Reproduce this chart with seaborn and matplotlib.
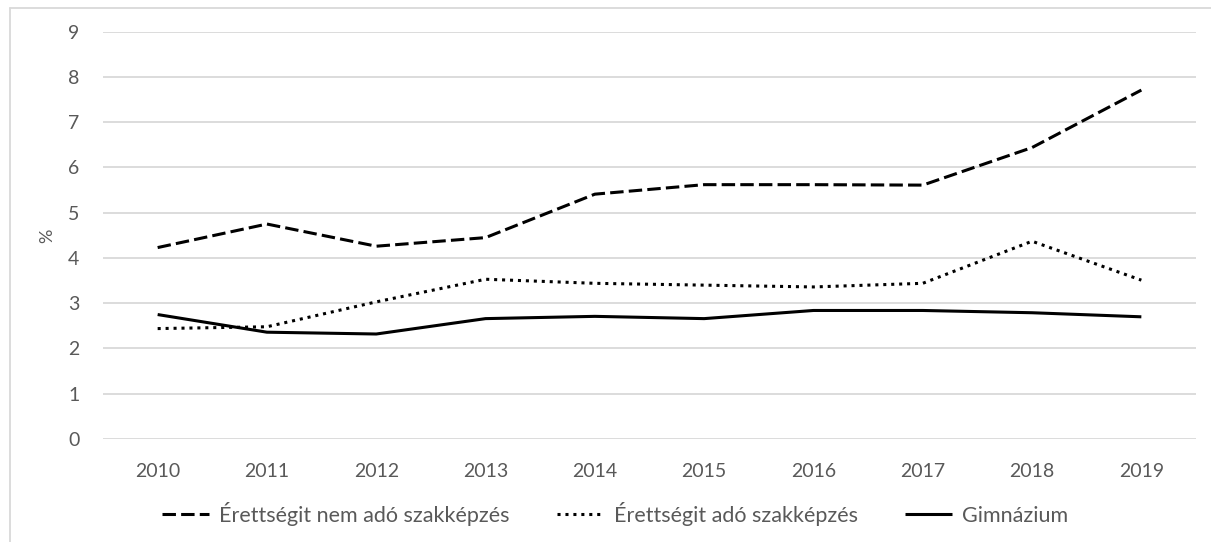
import matplotlib
matplotlib.use("Agg")
import matplotlib.pyplot as plt
import seaborn as sns
import pandas as pd
from matplotlib.lines import Line2D

years = [2010, 2011, 2012, 2013, 2014, 2015, 2016, 2017, 2018, 2019]
nem_ado = [4.23, 4.75, 4.26, 4.45, 5.41, 5.62, 5.62, 5.61, 6.44, 7.71]
ado = [2.44, 2.48, 3.03, 3.53, 3.44, 3.40, 3.36, 3.44, 4.37, 3.51]
gimnazium = [2.75, 2.36, 2.32, 2.66, 2.71, 2.66, 2.84, 2.84, 2.79, 2.70]
series_names = ["Érettségit nem adó szakképzés", "Érettségit adó szakképzés", "Gimnázium"]
y_ticks = [0, 1, 2, 3, 4, 5, 6, 7, 8, 9]
y_label = "%"

sns.set_theme(style="white")
plt.rcParams['font.family'] = ['Lato', 'DejaVu Sans']

df = pd.DataFrame({
    "year": years * 3,
    "value": nem_ado + ado + gimnazium,
    "series": [series_names[0]] * 10 + [series_names[1]] * 10 + [series_names[2]] * 10,
})

TXT = "#595959"
GRID = "#d9d9d9"

fig = plt.figure(figsize=(12.11, 5.42), dpi=100)
ax = fig.add_axes([103 / 1211, 1 - 439 / 542, (1196 - 103) / 1211, (439 - 31.7) / 542])

dashes = {series_names[0]: (4.4, 1.7), series_names[1]: (1, 1.6), series_names[2]: ""}
sns.lineplot(data=df, x="year", y="value", hue="series", style="series",
             palette=["black", "black", "black"], dashes=dashes,
             linewidth=2.2, ax=ax, legend=False, sort=False)
for ln in ax.get_lines():
    ln.set_dash_capstyle("butt")
    ln.set_solid_capstyle("butt")

ax.set_xlim(2009.5, 2019.5)
ax.set_ylim(0, 9)
ax.set_xticks(years)
ax.set_xticklabels([str(y) for y in years])
ax.set_yticks(y_ticks)
ax.yaxis.grid(True, color=GRID, linewidth=1.3)
ax.xaxis.grid(False)
for s in ax.spines.values():
    s.set_visible(False)
ax.tick_params(axis="both", length=0, labelsize=14, colors=TXT)
ax.tick_params(axis="x", pad=17)
ax.tick_params(axis="y", pad=17)
ax.set_xlabel("")
ax.set_ylabel(y_label, color=TXT, fontsize=13, labelpad=9)

handles = [
    Line2D([], [], color="black", linewidth=2.2, dashes=(4.4, 1.7), dash_capstyle="butt"),
    Line2D([], [], color="black", linewidth=2.2, dashes=(1, 1.6), dash_capstyle="butt"),
    Line2D([], [], color="black", linewidth=2.2, solid_capstyle="butt"),
]
leg = fig.legend(handles, series_names, loc="center", bbox_to_anchor=(615 / 1211, 1 - 514 / 542),
                 ncol=3, frameon=False, fontsize=15.5, handlelength=2.2, handletextpad=0.45,
                 columnspacing=2.2, labelcolor=TXT)

# outer chart frame (left and top edges visible)
fig.add_artist(Line2D([10 / 1211, 10 / 1211], [0, 1 - 8 / 542], transform=fig.transFigure,
                      color=GRID, linewidth=1.3))
fig.add_artist(Line2D([10 / 1211, 1], [1 - 8 / 542, 1 - 8 / 542], transform=fig.transFigure,
                      color=GRID, linewidth=1.3))

fig.savefig("out.png", dpi=100)
